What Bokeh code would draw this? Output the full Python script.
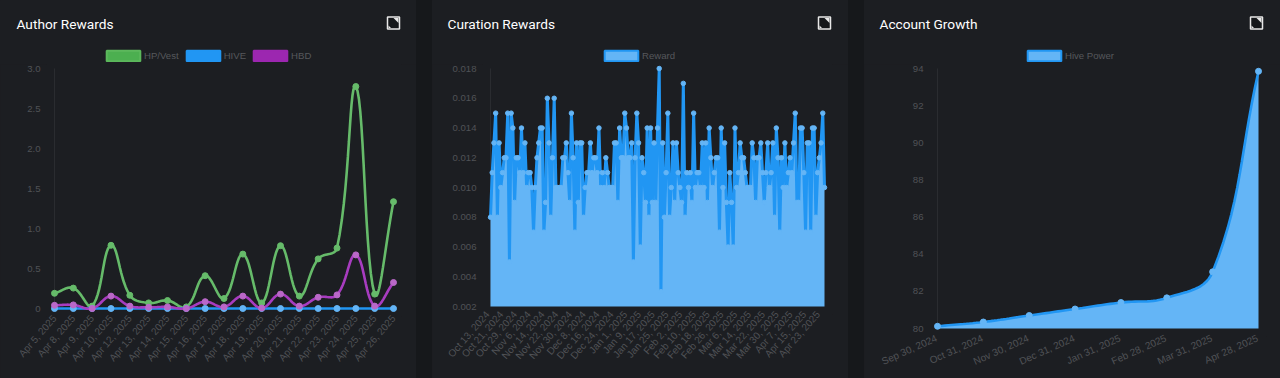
import math
from bokeh.plotting import figure
from bokeh.layouts import row, column
from bokeh.embed import file_html
from bokeh.resources import INLINE
from bokeh.models import FixedTicker, Label, Legend, LegendItem, Range1d

# ---------- data ----------
author_labels = ["Apr 5, 2025", "Apr 8, 2025", "Apr 9, 2025", "Apr 10, 2025", "Apr 12, 2025",
                 "Apr 13, 2025", "Apr 14, 2025", "Apr 15, 2025", "Apr 16, 2025", "Apr 17, 2025",
                 "Apr 18, 2025", "Apr 19, 2025", "Apr 20, 2025", "Apr 21, 2025", "Apr 22, 2025",
                 "Apr 23, 2025", "Apr 24, 2025", "Apr 25, 2025", "Apr 26, 2025"]
hp_vest = [.19, .255, .03, .79, .165, .07, .10, .02, .41, .125, .68, .07, .785, .155, .62, .755,
           2.775, .18, 1.335]
hive = [0] * 19
hbd = [.04, .045, 0, .155, .03, .015, .02, 0, .085, .02, .155, .005, .18, .03, .14, .17, .67, .03, .325]
author_ticks = [0, .5, 1, 1.5, 2, 2.5, 3]
author_tick_labels = ["0", "0.5", "1.0", "1.5", "2.0", "2.5", "3.0"]

curation_labels = ["Oct 13, 2024", "Oct 21, 2024", "Oct 29, 2024", "Nov 6, 2024", "Nov 14, 2024",
                   "Nov 22, 2024", "Nov 30, 2024", "Dec 8, 2024", "Dec 16, 2024", "Dec 24, 2024",
                   "Jan 1, 2025", "Jan 9, 2025", "Jan 17, 2025", "Jan 25, 2025", "Feb 2, 2025",
                   "Feb 10, 2025", "Feb 18, 2025", "Feb 26, 2025", "Mar 6, 2025", "Mar 14, 2025",
                   "Mar 22, 2025", "Mar 30, 2025", "Apr 7, 2025", "Apr 15, 2025", "Apr 23, 2025"]
reward = [.008, .011, .013, .015, .008, .013, .010, .011, .012, .012, .015, .005, .015, .014, .009,
          .012, .012, .011, .014, .011, .013, .010, .011, .011, .010, .007, .010, .012, .013, .014,
          .014, .007, .009, .016, .013, .008, .012, .016, .010, .010, .010, .010, .012, .012, .013,
          .011, .009, .015, .012, .007, .013, .009, .013, .013, .008, .010, .011, .011, .013, .011,
          .012, .012, .011, .014, .010, .011, .010, .012, .011, .010, .010, .010, .013, .013, .009,
          .014, .012, .012, .015, .014, .012, .012, .013, .005, .012, .015, .013, .006, .012, .011,
          .009, .014, .008, .014, .009, .013, .009, .014, .018, .003, .013, .008, .011, .015, .008,
          .010, .013, .009, .013, .011, .010, .009, .017, .008, .011, .010, .011, .009, .015, .010,
          .011, .011, .010, .013, .010, .013, .009, .014, .012, .010, .011, .012, .012, .007, .014,
          .010, .013, .009, .006, .011, .009, .006, .014, .010, .011, .013, .012, .012, .011, .010,
          .010, .010, .013, .012, .009, .012, .012, .013, .011, .009, .011, .013, .010, .011, .013,
          .008, .014, .012, .007, .012, .010, .013, .010, .011, .012, .011, .013, .015, .009, .009,
          .014, .014, .011, .007, .013, .013, .007, .014, .014, .008, .011, .012, .013, .015, .010]
curation_ticks = [.002, .004, .006, .008, .010, .012, .014, .016, .018]
curation_tick_labels = ["0.002", "0.004", "0.006", "0.008", "0.010", "0.012", "0.014", "0.016", "0.018"]

growth_labels = ["Sep 30, 2024", "Oct 31, 2024", "Nov 30, 2024", "Dec 31, 2024", "Jan 31, 2025",
                 "Feb 28, 2025", "Mar 31, 2025", "Apr 28, 2025"]
hive_power = [80.12, 80.35, 80.7, 81.05, 81.4, 81.65, 83.05, 93.85]
growth_ticks = [80, 82, 84, 86, 88, 90, 92, 94]
growth_tick_labels = ["80", "82", "84", "86", "88", "90", "92", "94"]

# ---------- style ----------
PANEL = "#1c1e22"
GAP = "#16181b"
TICK = "#505256"
AXIS = "#2a2c30"
GREEN, GREEN_PT = "#4caf50", "#66bb6a"
BLUE, BLUE_PT = "#2196f3", "#64b5f6"
PURPLE, PURPLE_PT = "#9c27b0", "#ba68c8"
FONT = "Liberation Sans"
WIDTH = 416
HEIGHT = 378
HEAD = 64
PAD = 8
PAD_TOP = 4


def spline(xs, ys, sx, sy, tension=0.4, steps=14):
    """Chart.js style bezier rendering of a series; distances measured in pixels."""
    n = len(xs)
    out_x, out_y = [], []
    ctrl = []
    for i in range(n):
        a = max(i - 1, 0)
        c = min(i + 1, n - 1)
        d01 = math.hypot((xs[i] - xs[a]) * sx, (ys[i] - ys[a]) * sy)
        d12 = math.hypot((xs[c] - xs[i]) * sx, (ys[c] - ys[i]) * sy)
        tot = (d01 + d12) or 1
        fa, fb = tension * d01 / tot, tension * d12 / tot
        dx, dy = xs[c] - xs[a], ys[c] - ys[a]
        ctrl.append(((xs[i] - fa * dx, ys[i] - fa * dy), (xs[i] + fb * dx, ys[i] + fb * dy)))
    for i in range(n - 1):
        p0, p3 = (xs[i], ys[i]), (xs[i + 1], ys[i + 1])
        p1, p2 = ctrl[i][1], ctrl[i + 1][0]
        for k in range(steps):
            t = k / steps
            u = 1 - t
            out_x.append(u**3 * p0[0] + 3 * u * u * t * p1[0] + 3 * u * t * t * p2[0] + t**3 * p3[0])
            out_y.append(u**3 * p0[1] + 3 * u * u * t * p1[1] + 3 * u * t * t * p2[1] + t**3 * p3[1])
    out_x.append(xs[-1])
    out_y.append(ys[-1])
    return out_x, out_y


def header(title, title_x, icon_x, legend_x, legend_entries):
    """Title, legend and expand icon; the frame fills this strip, one data unit per pixel."""
    h = figure(width=WIDTH, height=HEAD, output_backend="svg", toolbar_location=None,
               min_border=0, x_range=Range1d(0, WIDTH), y_range=Range1d(HEAD, 0),
               background_fill_color=PANEL, border_fill_color=PANEL, outline_line_color=None)
    h.axis.visible = False
    h.grid.visible = False
    h.add_layout(Label(x=title_x, y=23.5, text=title, text_color="#ffffff", text_font="Roboto",
                       text_font_size="13.7px", text_baseline="middle"))
    h.quad(left=[icon_x], right=[icon_x + 12], top=[16.5], bottom=[28.5],
           fill_color="#15171a", line_color="#e8e8e8", line_width=1.5)
    h.patch([icon_x + 6, icon_x + 11, icon_x + 11], [17.5, 17.5, 22.5], fill_color="#e8e8e8", line_color=None)
    h.patch([icon_x + 1, icon_x + 3.5, icon_x + 1], [27.5, 27.5, 25], fill_color="#e8e8e8", line_color=None)
    items = []
    for name, fill, line in legend_entries:
        r = h.quad(left=[-50], right=[-40], top=[0], bottom=[1], fill_color=fill, line_color=line, line_width=2)
        items.append(LegendItem(label=name, renderers=[r]))
    h.add_layout(Legend(items=items, orientation="horizontal", location=(legend_x, 2),
                        background_fill_alpha=0, border_line_color=None, glyph_width=42, glyph_height=13,
                        label_text_color="#56585c", label_text_font=FONT, label_text_font_size="9.6px",
                        label_standoff=0, spacing=3, padding=0, margin=0, label_height=10))
    return h


def panel(left, right, top, bottom, ymin, ymax, n, labels, step, yticks, ylabels, angle, standoff, label_dx):
    sx = (right - left) / (n - 1)
    sy = (bottom - top) / (ymax - ymin)
    p = figure(width=WIDTH, height=HEIGHT - HEAD, output_backend="svg", toolbar_location=None,
               min_border_left=left - PAD, min_border_right=WIDTH - right - PAD,
               min_border_top=top - HEAD - PAD_TOP, min_border_bottom=HEIGHT - bottom - PAD,
               x_range=Range1d(-PAD / sx, n - 1 + PAD / sx),
               y_range=Range1d(ymin - PAD / sy, ymax + PAD_TOP / sy),
               background_fill_color=PANEL, border_fill_color=PANEL, outline_line_color=None)
    p.grid.visible = False
    xticks = [i + label_dx / sx for i in range(0, n, step)][:len(labels)]
    for ax in (p.xaxis[0], p.yaxis[0]):
        ax.major_tick_line_color = None
        ax.minor_tick_line_color = None
        ax.axis_line_color = None
        ax.major_label_text_color = TICK
        ax.major_label_text_font = FONT
        ax.major_label_text_font_size = "9.6px"
    p.xaxis[0].major_label_text_font_size = "10px"
    p.xaxis[0].ticker = FixedTicker(ticks=xticks)
    p.xaxis[0].major_label_overrides = dict(zip(xticks, labels))
    p.xaxis[0].major_label_orientation = math.radians(angle)
    p.xaxis[0].major_label_standoff = standoff
    p.yaxis[0].ticker = FixedTicker(ticks=yticks)
    p.yaxis[0].major_label_overrides = dict(zip(yticks, ylabels))
    p.yaxis[0].major_label_standoff = 0
    p.line([0, 0], [ymin, ymax], line_color=AXIS, line_width=1)
    return p, sx, sy


def card(head, chart):
    bg = {"background-color": PANEL}
    return column(row(head, styles=bg), row(chart, styles=bg), spacing=0, styles=bg)


# ---------- Author rewards ----------
h1 = header("Author Rewards", 16, 387, 102,
            [("HP/Vest", GREEN, "#5cb85c"), ("HIVE", BLUE, BLUE), ("HBD", PURPLE, PURPLE)])
p1, sx, sy = panel(54, 393, 68, 308, 0, 3, len(hp_vest), author_labels, 1,
                   author_ticks, author_tick_labels, 49, -6, 0)
idx = list(range(len(hp_vest)))
for ys, col, pt in ((hp_vest, GREEN_PT, GREEN_PT), (hive, BLUE, BLUE_PT), (hbd, "#a83cc0", PURPLE_PT)):
    lx, ly = spline(idx, ys, sx, sy)
    p1.line(lx, ly, line_color=col, line_width=2.6)
    p1.scatter(idx, ys, size=6, fill_color=pt, line_color=pt)

# ---------- Curation rewards ----------
n2 = len(reward)
h2 = header("Curation Rewards", 15, 386, 168, [("Reward", BLUE_PT, BLUE)])
p2, sx, sy = panel(58, 392, 68, 306, .002, .018, n2, curation_labels, 8,
                   curation_ticks, curation_tick_labels, 49, -8, -3)
idx = list(range(n2))
p2.varea(idx, [.002] * n2, reward, fill_color=BLUE_PT)
p2.line(idx, reward, line_color=BLUE, line_width=3)
p2.scatter(idx, reward, size=4.5, fill_color=BLUE_PT, line_color=BLUE_PT)

# ---------- Account growth ----------
n3 = len(hive_power)
h3 = header("Account Growth", 15, 386, 159, [("Hive Power", BLUE_PT, BLUE)])
p3, sx, sy = panel(73, 394, 68, 328, 80, 94, n3, growth_labels, 1,
                   growth_ticks, growth_tick_labels, 24, -5, -1)
idx = list(range(n3))
lx, ly = spline(idx, hive_power, sx, sy)
p3.varea(lx, [80] * len(lx), ly, fill_color=BLUE_PT)
p3.line(lx, ly, line_color=BLUE, line_width=2.6)
p3.scatter(idx, hive_power, size=6, fill_color=BLUE_PT, line_color=BLUE_PT)

page = row(card(h1, p1), card(h2, p2), card(h3, p3), spacing=16)
css = "<style>html,body{background:%s;}</style>" % GAP
open("out.html", "w").write(file_html(page, INLINE).replace("<head>", "<head>" + css, 1))
